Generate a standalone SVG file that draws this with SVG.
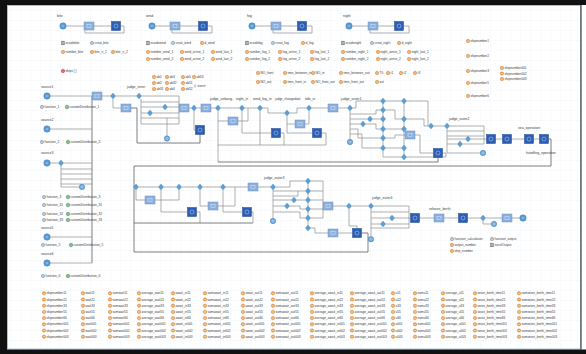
<svg xmlns="http://www.w3.org/2000/svg" width="586" height="354" viewBox="0 0 586 354">
<style>
text{font-family:"Liberation Sans",Arial,sans-serif;fill:#3a3a3a}
.lb{font-size:3.5px}
.sm{font-size:3.1px}
.v{font-size:3.2px}
.c{fill:none;stroke:#8e8e8e;stroke-width:0.7}
.k{fill:none;stroke:#5e5e5e;stroke-width:0.8}
</style>
<defs>
<pattern id="grid" width="10" height="10" patternUnits="userSpaceOnUse"><path d="M10,0H0V10" fill="none" stroke="#e6eaee" stroke-width="0.5"/></pattern>
<g id="ov"><circle r="1.7" fill="#eea255" stroke="#c87628" stroke-width="0.4"/><circle r="0.55" fill="#fff"/></g>
<g id="fn"><circle r="1.7" fill="#a7b9cb" stroke="#6d87a0" stroke-width="0.4"/><circle r="0.6" fill="#fff"/></g>
<g id="cd"><circle r="1.8" fill="#6ab47e" stroke="#3a8150" stroke-width="0.4"/><path d="M-0.9,0.6Q0,-1.4 0.9,0.6" fill="none" stroke="#fff" stroke-width="0.4"/></g>
<g id="db"><rect x="-1.5" y="-1.9" width="3" height="3.8" fill="#8f9a8f" stroke="#555" stroke-width="0.3"/><path d="M-1,-0.6H1M-1,0.5H1" stroke="#fff" stroke-width="0.3"/></g>
<g id="ship"><circle r="1.8" fill="#d8404a" stroke="#a82630" stroke-width="0.3"/><circle r="0.6" fill="#fff"/></g>
<g id="src"><circle r="3.2" fill="#5b9bd5" stroke="#3b7cc0" stroke-width="0.5"/><path d="M-1.2,0H1.2" stroke="#e6f0fa" stroke-width="0.6"/></g>
<g id="snk"><circle r="2.7" fill="#6aa6da" stroke="#3b7cc0" stroke-width="0.5"/><circle r="1.1" fill="none" stroke="#e6f0fa" stroke-width="0.4"/></g>
<g id="ls"><rect x="-5" y="-4" width="10" height="8" fill="#8cb0de" stroke="#6a90c6" stroke-width="0.5"/><rect x="-2" y="-1.4" width="4" height="2.8" fill="none" stroke="#eef4fb" stroke-width="0.4"/></g>
<g id="ds"><rect x="-4.5" y="-4.5" width="9" height="9" fill="#2b5db4" stroke="#1d4590" stroke-width="0.5"/><circle r="2" fill="none" stroke="#dce8f8" stroke-width="0.45"/></g>
<g id="dm"><path d="M0,-3L2.7,0L0,3L-2.7,0Z" fill="#5e9fd3" stroke="#3f80ba" stroke-width="0.3"/></g>
<g id="ev"><path d="M0.6,-2L-0.8,0.2H0.2L-0.5,2L1,-0.3H0Z" fill="#f0b21a" stroke="#c78a00" stroke-width="0.2"/></g>
</defs>

<rect width="586" height="354" fill="#fff"/>
<rect x="8" y="6" width="572" height="342" fill="url(#grid)"/>
<rect x="7.5" y="5.5" width="573" height="343.5" fill="none" stroke="#a8c2da" stroke-width="1"/>
<rect x="0" y="0" width="586" height="5" fill="#111"/>
<rect x="0" y="0" width="7" height="354" fill="#111"/>
<rect x="0" y="349.5" width="586" height="4.5" fill="#111"/>
<line x1="581" y1="5" x2="581" y2="350" stroke="#444" stroke-width="1.2"/>

<g id="connectors">
<path class="c" d="M66.2,26H84M94,26H111.5M120.5,26H124V33H85V30"/>
<path class="c" d="M155.2,26H170M180,26H198.5M207.5,26H212V33H172V30"/>
<path class="c" d="M255.2,26H271M281,26H297.5M306.5,26H312V33H273V30"/>
<path class="c" d="M352.2,26H368M378,26H394.5M403.5,26H409V33H370V30"/>
<path class="k" d="M92,96V263"/>
<path class="c" d="M50.2,96H92M50.2,129H92M50.2,163H58.3M63.7,163H92M61,166V187H79.3M61,169H92M61,174H92M61,179H92M61,184H92M50.2,237H92M50.2,263H92"/>
<path class="c" d="M102,96H110.3M115.7,96H136.3M113,99V108H121"/>
<path class="c" d="M141.7,96H179V124M141,99V124H179M141,102H179M141,107H162.3M167.7,107H179M141,113H147.3M152.7,113H179M141,118H179M167,118V135.8"/>
<path class="c" d="M189,108H191.3M196.7,108H201M211,108H215.3M194,111V130H195.5"/>
<path class="k" d="M200,134.5V143H137V108H131"/>
<path class="c" d="M220.7,108H239.3M218,111V162M218,121H228M238,121H248V108"/>
<path class="c" d="M244.7,108H257.3M242,111V133H271.5"/>
<path class="c" d="M262.7,108H268V113H284.3M260,111V145"/>
<path class="c" d="M289.7,113H297V108H306.3M287,116V133H312.5M287,124H295M305,124H309V111"/>
<path class="c" d="M280.5,133H284V145M321.5,133H326V145M218,145H326"/>
<path class="c" d="M311.7,108H328M338,108H347.3"/>
<path class="c" d="M352.7,108H356V101H380.3M350,111V139.3"/>
<path class="c" d="M350,114H376V110H380.3M350,119H367.3M372.7,119H380.3M350,124H360.3M365.7,124H376V129H380.3M350,129H358V138H380.3M350,134H362V148H380.3"/>
<path class="c" d="M383,101V148M385.7,101H401.3M385.7,110H395V119H401.3M385.7,129H401.3M385.7,138H395V135H405M385.7,148H401.3M383,151V157H401.3M404,101V157"/>
<path class="c" d="M406.7,101H428V126M406.7,119H424V126H428.3M415,135H420V153H433.5M406.7,157H446V153H442.5"/>
<path class="k" d="M438,157.5V162H218"/>
<path class="c" d="M433.7,126H444.3M449.7,126H484V144M447,129V153H480.3"/>
<path class="c" d="M447,131H484M447,136H484M447,139H465.3M470.7,139H484M447,144H457.3M462.7,144H484M484,139H486.5"/>
<path class="c" d="M495.5,139H502.5M511.5,139H524.5M533.5,139H539.5"/>
<path class="k" d="M548.5,139H551V166H134V252H368V233H361.5"/>
<path class="c" d="M138.7,187H158.3M163.7,187H176.3M181.7,187H197.3M202.7,187H220.3M225.7,187H248M258,187H270.3"/>
<path class="c" d="M136,190V200H145M155,200H179V190M161,190V212H187.5M196.5,212H200V223M200,190V206H208M218,206H235V187M223,190V212H242.5M251.5,212H253V223"/>
<path class="k" d="M134,223H253"/>
<path class="c" d="M275.7,187H290V181H305.3M273,190V218.3M273,191H305.3M273,196H298V191M273,200H291.3M296.7,200H305.3M273,206H284.3M289.7,206H300V209H305.3M273,212H300V218H305.3"/>
<path class="c" d="M308,181V228M310.7,181H323V218M310.7,191H323M310.7,200H323M310.7,209H323M310.7,218H323M310.7,228H315V233H328M338,233H352.5"/>
<path class="c" d="M333,206H346.3M351.7,206H368.3M349,209V226H357V228.5"/>
<path class="c" d="M373.7,206H409V228M371,209V236.5M371,212H409M371,218H389.3M394.7,218H409M371,224H380.3M385.7,224H409M371,228H409M409,218H410.5"/>
<path class="c" d="M419.5,218H434M444,218H458.5M467.5,218H480.3M485.7,218H502M512,218H520M483,221V224H491.3"/>
</g>

<g id="src_bite"><text class="lb" x="57" y="17">bite</text><use href="#src" x="63" y="26"/></g>
<g id="svc_bite"><use href="#ls" x="89" y="26"/></g>
<g id="dly_bite"><use href="#ds" x="116" y="26"/></g>
<g id="src_wind"><text class="lb" x="146" y="17">wind</text><use href="#src" x="152" y="26"/></g>
<g id="svc_wind"><use href="#ls" x="175" y="26"/></g>
<g id="dly_wind"><use href="#ds" x="203" y="26"/></g>
<g id="src_fog"><text class="lb" x="247" y="17">fog</text><use href="#src" x="252" y="26"/></g>
<g id="svc_fog"><use href="#ls" x="276" y="26"/></g>
<g id="dly_fog"><use href="#ds" x="302" y="26"/></g>
<g id="src_night"><text class="lb" x="343" y="17">night</text><use href="#src" x="349" y="26"/></g>
<g id="svc_night"><use href="#ls" x="373" y="26"/></g>
<g id="dly_night"><use href="#ds" x="399" y="26"/></g>

<g id="vars_top" class="v">
<use href="#db" x="63" y="43"/><text x="65.5" y="44.1">ecodebite</text>
<use href="#fn" x="92" y="43"/><text x="94.5" y="44.1">creat_bite</text>
<use href="#ov" x="63" y="52"/><text x="65.5" y="53.1">number_bite</text>
<use href="#ov" x="92" y="52"/><text x="94.5" y="53.1">bite_n_1</text>
<use href="#ov" x="113" y="52"/><text x="115.5" y="53.1">bite_n_2</text>
<use href="#ship" x="63" y="71"/><text x="65.5" y="72.1">ships [ ]</text>
<use href="#db" x="148" y="43"/><text x="150.5" y="44.1">ecodewind</text>
<use href="#fn" x="173" y="43"/><text x="175.5" y="44.1">creat_wind</text>
<use href="#ov" x="202" y="43"/><text x="204.5" y="44.1">d_wind</text>
<use href="#ov" x="148" y="52"/><text x="150.5" y="53.1">number_wind_1</text>
<use href="#ov" x="182" y="52"/><text x="184.5" y="53.1">wind_arrive_1</text>
<use href="#ov" x="213" y="52"/><text x="215.5" y="53.1">wind_last_1</text>
<use href="#ov" x="148" y="59"/><text x="150.5" y="60.1">number_wind_2</text>
<use href="#ov" x="182" y="59"/><text x="184.5" y="60.1">wind_arrive_2</text>
<use href="#ov" x="213" y="59"/><text x="215.5" y="60.1">wind_last_2</text>
<use href="#db" x="247" y="43"/><text x="249.5" y="44.1">ecodefog</text>
<use href="#fn" x="273" y="43"/><text x="275.5" y="44.1">creat_fog</text>
<use href="#ov" x="303" y="43"/><text x="305.5" y="44.1">d_fog</text>
<use href="#ov" x="247" y="52"/><text x="249.5" y="53.1">number_fog_1</text>
<use href="#ov" x="280" y="52"/><text x="282.5" y="53.1">fog_arrive_1</text>
<use href="#ov" x="312" y="52"/><text x="314.5" y="53.1">fog_last_1</text>
<use href="#ov" x="247" y="59"/><text x="249.5" y="60.1">number_fog_2</text>
<use href="#ov" x="280" y="59"/><text x="282.5" y="60.1">fog_arrive_2</text>
<use href="#ov" x="312" y="59"/><text x="314.5" y="60.1">fog_last_2</text>
<use href="#db" x="343" y="43"/><text x="345.5" y="44.1">ecodenight</text>
<use href="#fn" x="372" y="43"/><text x="374.5" y="44.1">creat_night</text>
<use href="#ov" x="399" y="43"/><text x="401.5" y="44.1">d_night</text>
<use href="#ov" x="343" y="52"/><text x="345.5" y="53.1">number_night_1</text>
<use href="#ov" x="378" y="52"/><text x="380.5" y="53.1">night_arrive_1</text>
<use href="#ov" x="409" y="52"/><text x="411.5" y="53.1">night_last_1</text>
<use href="#ov" x="343" y="59"/><text x="345.5" y="60.1">number_night_2</text>
<use href="#ov" x="378" y="59"/><text x="380.5" y="60.1">night_arrive_2</text>
<use href="#ov" x="409" y="59"/><text x="411.5" y="60.1">night_last_2</text>
<use href="#ov" x="154" y="77"/><text x="156.5" y="78.1">ab1</text>
<use href="#ov" x="167" y="77"/><text x="169.5" y="78.1">ab3</text>
<use href="#ov" x="183" y="77"/><text x="185.5" y="78.1">ab5</text>
<use href="#ov" x="194" y="77"/><text x="196.5" y="78.1">ab53</text>
<use href="#ov" x="154" y="83"/><text x="156.5" y="84.1">ab2</text>
<use href="#ov" x="167" y="83"/><text x="169.5" y="84.1">ab32</text>
<use href="#ov" x="183" y="83"/><text x="185.5" y="84.1">ab51</text>
<use href="#ov" x="154" y="89"/><text x="156.5" y="90.1">ab31</text>
<use href="#ov" x="167" y="89"/><text x="169.5" y="90.1">ab4</text>
<use href="#ov" x="183" y="89"/><text x="185.5" y="90.1">ab52</text>
<use href="#ev" x="195" y="86"/><text x="197.5" y="87.1">event</text>
<use href="#ov" x="258" y="73"/><text x="260.5" y="74.1">NO_front</text>
<use href="#ov" x="285" y="73"/><text x="287.5" y="74.1">time_between_in</text>
<use href="#ov" x="313" y="73"/><text x="315.5" y="74.1">NO_in</text>
<use href="#ov" x="341" y="73"/><text x="343.5" y="74.1">time_between_out</text>
<use href="#ov" x="377" y="73"/><text x="379.5" y="74.1">T0</text>
<use href="#ov" x="388" y="73"/><text x="390.5" y="74.1">t1</text>
<use href="#ov" x="401" y="73"/><text x="403.5" y="74.1">t2</text>
<use href="#ov" x="415" y="73"/><text x="417.5" y="74.1">t3</text>
<use href="#ov" x="258" y="82"/><text x="260.5" y="83.1">NO_out</text>
<use href="#ov" x="285" y="82"/><text x="287.5" y="83.1">time_front_in</text>
<use href="#ov" x="313" y="82"/><text x="315.5" y="83.1">NO_front_out</text>
<use href="#ov" x="341" y="82"/><text x="343.5" y="83.1">time_front_out</text>
<use href="#ov" x="377" y="82"/><text x="379.5" y="83.1">out</text>
<use href="#ov" x="468" y="41"/><text x="470.5" y="42.1">shipnumber1</text>
<use href="#ov" x="468" y="56"/><text x="470.5" y="57.1">shipnumber2</text>
<use href="#ov" x="468" y="71"/><text x="470.5" y="72.1">shipnumber3</text>
<use href="#ov" x="468" y="83"/><text x="470.5" y="84.1">shipnumber5</text>
<use href="#ov" x="468" y="96"/><text x="470.5" y="97.1">shipnumber6</text>
<use href="#ov" x="502" y="68"/><text x="504.5" y="69.1">shipnumber001</text>
<use href="#ov" x="502" y="73.5"/><text x="504.5" y="74.6">shipnumber002</text>
<use href="#ov" x="502" y="79"/><text x="504.5" y="80.1">shipnumber003</text>
</g>

<g id="vars_left" class="v">
<use href="#fn" x="42" y="107"/><text x="44.5" y="108.1">function_1</text>
<use href="#cd" x="67" y="107"/><text x="69.5" y="108.1">customDistribution_1</text>
<use href="#fn" x="42" y="142"/><text x="44.5" y="143.1">function_2</text>
<use href="#cd" x="68" y="142"/><text x="70.5" y="143.1">customDistribution_2</text>
<use href="#fn" x="44" y="197"/><text x="46.5" y="198.1">function_3</text>
<use href="#cd" x="68" y="197"/><text x="70.5" y="198.1">customDistribution_3</text>
<use href="#fn" x="44" y="205"/><text x="46.5" y="206.1">function_31</text>
<use href="#cd" x="68" y="205"/><text x="70.5" y="206.1">customDistribution_31</text>
<use href="#fn" x="44" y="214"/><text x="46.5" y="215.1">function_32</text>
<use href="#cd" x="68" y="214"/><text x="70.5" y="215.1">customDistribution_32</text>
<use href="#fn" x="44" y="220"/><text x="46.5" y="221.1">function_33</text>
<use href="#cd" x="68" y="220"/><text x="70.5" y="221.1">customDistribution_33</text>
<use href="#fn" x="43" y="245"/><text x="45.5" y="246.1">function_5</text>
<use href="#cd" x="71" y="245"/><text x="73.5" y="246.1">customDistribution_5</text>
<use href="#fn" x="43" y="276"/><text x="45.5" y="277.1">function_6</text>
<use href="#cd" x="68" y="276"/><text x="70.5" y="277.1">customDistribution_6</text>
</g>

<g id="source1"><text class="lb" x="41" y="88">source1</text><use href="#src" x="47" y="96"/></g>
<g id="source2"><text class="lb" x="41" y="121">source2</text><use href="#src" x="47" y="129"/></g>
<g id="source3"><text class="lb" x="41" y="154">source3</text><use href="#src" x="47" y="163"/></g>
<g id="source5"><text class="lb" x="41" y="229">source5</text><use href="#src" x="47" y="237"/></g>
<g id="source6"><text class="lb" x="41" y="255">source6</text><use href="#src" x="47" y="263"/></g>
<g id="sel3"><use href="#dm" x="61" y="163"/></g>
<g id="sink3"><use href="#snk" x="82" y="187"/></g>

<g id="svc_in"><use href="#ls" x="97" y="96"/></g>
<g id="sel_a"><use href="#dm" x="113" y="96"/></g>
<g id="judge_inner"><text class="lb" x="127" y="88">judge_inner</text><use href="#dm" x="139" y="96"/></g>
<g id="svc_b"><use href="#ls" x="126" y="108"/></g>
<g id="sel_b"><use href="#dm" x="165" y="107"/></g>
<g id="sel_c"><use href="#dm" x="150" y="113"/></g>
<g id="sink_a"><use href="#snk" x="167" y="138.5"/></g>
<g id="svc_c"><use href="#ls" x="184" y="108"/></g>
<g id="sel_d"><use href="#dm" x="194" y="108"/></g>
<g id="dly_a"><use href="#ds" x="200" y="130"/></g>
<g id="svc_d"><use href="#ls" x="206" y="108"/></g>
<g id="judge_uebang"><text class="lb" x="210" y="99.5">judge_uebang</text><use href="#dm" x="218" y="108"/></g>
<g id="svc_e"><use href="#ls" x="233" y="121"/></g>
<g id="night_in"><text class="lb" x="236" y="99.5">night_in</text><use href="#dm" x="242" y="108"/></g>
<g id="wind_fog_in"><text class="lb" x="253" y="99.5">wind_fog_in</text><use href="#dm" x="260" y="108"/></g>
<g id="dly_b"><use href="#ds" x="276" y="133"/></g>
<g id="judge_changedate"><text class="sm" x="275" y="99.5">judge_changedate</text><use href="#dm" x="287" y="113"/></g>
<g id="svc_f"><use href="#ls" x="300" y="124"/></g>
<g id="dly_c"><use href="#ds" x="317" y="133"/></g>
<g id="tide_in"><text class="lb" x="305" y="99.5">tide_in</text><use href="#dm" x="309" y="108"/></g>
<g id="svc_g"><use href="#ls" x="333" y="108"/></g>
<g id="judge_outer1"><text class="lb" x="341" y="99.5">judge_outer1</text><use href="#dm" x="350" y="108"/></g>
<g id="sel_e"><use href="#dm" x="370" y="119"/></g>
<g id="sel_f"><use href="#dm" x="363" y="124"/></g>
<g id="sink_b"><use href="#snk" x="350" y="142"/></g>
<g id="col383"><use href="#dm" x="383" y="101"/><use href="#dm" x="383" y="110"/><use href="#dm" x="383" y="119"/><use href="#dm" x="383" y="129"/><use href="#dm" x="383" y="138"/><use href="#dm" x="383" y="148"/></g>
<g id="col404"><use href="#dm" x="404" y="101"/><use href="#dm" x="404" y="119"/><use href="#dm" x="404" y="129"/><use href="#dm" x="404" y="148"/><use href="#dm" x="404" y="157"/></g>
<g id="svc_h"><use href="#ls" x="410" y="135"/></g>
<g id="sel_g"><use href="#dm" x="431" y="126"/></g>
<g id="dly_d"><use href="#ds" x="438" y="153"/></g>
<g id="judge_outer2"><text class="lb" x="449" y="119.5">judge_outer2</text><use href="#dm" x="447" y="126"/></g>
<g id="sel_h"><use href="#dm" x="468" y="139"/></g>
<g id="sel_i"><use href="#dm" x="460" y="144"/></g>
<g id="sink_c"><use href="#snk" x="483" y="153"/></g>
<g id="dly_e"><use href="#ds" x="491" y="139"/></g>
<g id="dly_f"><use href="#ds" x="507" y="139"/></g>
<g id="sea_operation"><text class="lb" x="518" y="129">sea_operation</text><use href="#ds" x="529" y="139"/></g>
<g id="handling_operation"><text class="lb" x="526" y="153.5">handling_operation</text><use href="#ds" x="544" y="139"/></g>

<g id="sel_r2a"><use href="#dm" x="136" y="187"/></g>
<g id="svc_r2a"><use href="#ls" x="150" y="200"/></g>
<g id="sel_r2b"><use href="#dm" x="161" y="187"/></g>
<g id="sel_r2c"><use href="#dm" x="179" y="187"/></g>
<g id="dly_r2a"><use href="#ds" x="192" y="212"/></g>
<g id="sel_r2d"><use href="#dm" x="200" y="187"/></g>
<g id="svc_r2b"><use href="#ls" x="213" y="206"/></g>
<g id="sel_r2e"><use href="#dm" x="223" y="187"/></g>
<g id="dly_r2b"><use href="#ds" x="247" y="212"/></g>
<g id="svc_r2c"><use href="#ls" x="253" y="187"/></g>
<g id="judge_outer3"><text class="lb" x="264" y="178.5">judge_outer3</text><use href="#dm" x="273" y="187"/></g>
<g id="sink_r2a"><use href="#snk" x="273" y="221"/></g>
<g id="sel_r2f"><use href="#dm" x="294" y="200"/></g>
<g id="sel_r2g"><use href="#dm" x="287" y="206"/></g>
<g id="col308"><use href="#dm" x="308" y="181"/><use href="#dm" x="308" y="191"/><use href="#dm" x="308" y="200"/><use href="#dm" x="308" y="209"/><use href="#dm" x="308" y="218"/><use href="#dm" x="308" y="228"/></g>
<g id="svc_r2d"><use href="#ls" x="328" y="206"/></g>
<g id="sel_r2h"><use href="#dm" x="349" y="206"/></g>
<g id="svc_r2e"><use href="#ls" x="333" y="233"/></g>
<g id="dly_r2c"><use href="#ds" x="357" y="233"/></g>
<g id="judge_outer4"><text class="lb" x="372" y="198.5">judge_outer4</text><use href="#dm" x="371" y="206"/></g>
<g id="sel_r2i"><use href="#dm" x="392" y="218"/></g>
<g id="sel_r2j"><use href="#dm" x="383" y="224"/></g>
<g id="sink_r2b"><use href="#snk" x="371" y="239.2"/></g>
<g id="dly_r2d"><use href="#ds" x="415" y="218"/></g>
<g id="release_berth"><text class="lb" x="429" y="209.5">release_berth</text><use href="#ls" x="439" y="218"/></g>
<g id="dly_r2e"><use href="#ds" x="463" y="218"/></g>
<g id="sel_r2k"><use href="#dm" x="483" y="218"/></g>
<g id="sink_r2c"><use href="#snk" x="494" y="224"/></g>
<g id="svc_r2f"><use href="#ls" x="507" y="218"/></g>
<g id="sink_end"><use href="#src" x="523" y="218"/></g>

<g id="legend" class="v">
<use href="#fn" x="452" y="239"/><text x="454.5" y="240.1">function_calculation</text>
<use href="#ov" x="452" y="245"/><text x="454.5" y="246.1">output_number</text>
<use href="#ov" x="452" y="251"/><text x="454.5" y="252.1">ship_number</text>
<use href="#fn" x="492" y="239"/><text x="494.5" y="240.1">function_output</text>
<use href="#db" x="492" y="245"/><text x="494.5" y="246.1">excelOutput</text>
</g>

<g id="table" class="v">
<g transform="translate(44,0)"><use href="#ov" y="293.3"/><text x="2.5" y="294.4">shipnumber11</text><use href="#ov" y="299.5"/><text x="2.5" y="300.6">shipnumber22</text><use href="#ov" y="305.7"/><text x="2.5" y="306.8">shipnumber33</text><use href="#ov" y="311.9"/><text x="2.5" y="313">shipnumber55</text><use href="#ov" y="318.1"/><text x="2.5" y="319.2">shipnumber66</text><use href="#ov" y="324.3"/><text x="2.5" y="325.4">shipnumber001</text><use href="#ov" y="330.5"/><text x="2.5" y="331.6">shipnumber002</text><use href="#ov" y="336.7"/><text x="2.5" y="337.8">shipnumber003</text></g>
<g transform="translate(83,0)"><use href="#ov" y="293.3"/><text x="2.5" y="294.4">wait11</text><use href="#ov" y="299.5"/><text x="2.5" y="300.6">wait22</text><use href="#ov" y="305.7"/><text x="2.5" y="306.8">wait33</text><use href="#ov" y="311.9"/><text x="2.5" y="313">wait55</text><use href="#ov" y="318.1"/><text x="2.5" y="319.2">wait66</text><use href="#ov" y="324.3"/><text x="2.5" y="325.4">wait001</text><use href="#ov" y="330.5"/><text x="2.5" y="331.6">wait002</text><use href="#ov" y="336.7"/><text x="2.5" y="337.8">wait003</text></g>
<g transform="translate(110,0)"><use href="#ov" y="293.3"/><text x="2.5" y="294.4">sumwait11</text><use href="#ov" y="299.5"/><text x="2.5" y="300.6">sumwait22</text><use href="#ov" y="305.7"/><text x="2.5" y="306.8">sumwait33</text><use href="#ov" y="311.9"/><text x="2.5" y="313">sumwait55</text><use href="#ov" y="318.1"/><text x="2.5" y="319.2">sumwait66</text><use href="#ov" y="324.3"/><text x="2.5" y="325.4">sumwait001</text><use href="#ov" y="330.5"/><text x="2.5" y="331.6">sumwait002</text><use href="#ov" y="336.7"/><text x="2.5" y="337.8">sumwait003</text></g>
<g transform="translate(139,0)"><use href="#ov" y="293.3"/><text x="2.5" y="294.4">average_wait11</text><use href="#ov" y="299.5"/><text x="2.5" y="300.6">average_wait22</text><use href="#ov" y="305.7"/><text x="2.5" y="306.8">average_wait33</text><use href="#ov" y="311.9"/><text x="2.5" y="313">average_wait55</text><use href="#ov" y="318.1"/><text x="2.5" y="319.2">average_wait66</text><use href="#ov" y="324.3"/><text x="2.5" y="325.4">average_wait001</text><use href="#ov" y="330.5"/><text x="2.5" y="331.6">average_wait002</text><use href="#ov" y="336.7"/><text x="2.5" y="337.8">average_wait003</text></g>
<g transform="translate(173,0)"><use href="#ov" y="293.3"/><text x="2.5" y="294.4">await_in11</text><use href="#ov" y="299.5"/><text x="2.5" y="300.6">await_in22</text><use href="#ov" y="305.7"/><text x="2.5" y="306.8">await_in33</text><use href="#ov" y="311.9"/><text x="2.5" y="313">await_in55</text><use href="#ov" y="318.1"/><text x="2.5" y="319.2">await_in66</text><use href="#ov" y="324.3"/><text x="2.5" y="325.4">await_in001</text><use href="#ov" y="330.5"/><text x="2.5" y="331.6">await_in002</text><use href="#ov" y="336.7"/><text x="2.5" y="337.8">await_in003</text></g>
<g transform="translate(205,0)"><use href="#ov" y="293.3"/><text x="2.5" y="294.4">sumawait_in11</text><use href="#ov" y="299.5"/><text x="2.5" y="300.6">sumawait_in22</text><use href="#ov" y="305.7"/><text x="2.5" y="306.8">sumawait_in33</text><use href="#ov" y="311.9"/><text x="2.5" y="313">sumawait_in55</text><use href="#ov" y="318.1"/><text x="2.5" y="319.2">sumawait_in66</text><use href="#ov" y="324.3"/><text x="2.5" y="325.4">sumawait_in001</text><use href="#ov" y="330.5"/><text x="2.5" y="331.6">sumawait_in002</text><use href="#ov" y="336.7"/><text x="2.5" y="337.8">sumawait_in003</text></g>
<g transform="translate(243,0)"><use href="#ov" y="293.3"/><text x="2.5" y="294.4">await_out11</text><use href="#ov" y="299.5"/><text x="2.5" y="300.6">await_out22</text><use href="#ov" y="305.7"/><text x="2.5" y="306.8">await_out33</text><use href="#ov" y="311.9"/><text x="2.5" y="313">await_out55</text><use href="#ov" y="318.1"/><text x="2.5" y="319.2">await_out66</text><use href="#ov" y="324.3"/><text x="2.5" y="325.4">await_out001</text><use href="#ov" y="330.5"/><text x="2.5" y="331.6">await_out002</text><use href="#ov" y="336.7"/><text x="2.5" y="337.8">await_out003</text></g>
<g transform="translate(273,0)"><use href="#ov" y="293.3"/><text x="2.5" y="294.4">sumawait_out11</text><use href="#ov" y="299.5"/><text x="2.5" y="300.6">sumawait_out22</text><use href="#ov" y="305.7"/><text x="2.5" y="306.8">sumawait_out33</text><use href="#ov" y="311.9"/><text x="2.5" y="313">sumawait_out55</text><use href="#ov" y="318.1"/><text x="2.5" y="319.2">sumawait_out66</text><use href="#ov" y="324.3"/><text x="2.5" y="325.4">sumawait_out001</text><use href="#ov" y="330.5"/><text x="2.5" y="331.6">sumawait_out002</text><use href="#ov" y="336.7"/><text x="2.5" y="337.8">sumawait_out003</text></g>
<g transform="translate(312,0)"><use href="#ov" y="293.3"/><text x="2.5" y="294.4">average_await_in11</text><use href="#ov" y="299.5"/><text x="2.5" y="300.6">average_await_in22</text><use href="#ov" y="305.7"/><text x="2.5" y="306.8">average_await_in33</text><use href="#ov" y="311.9"/><text x="2.5" y="313">average_await_in55</text><use href="#ov" y="318.1"/><text x="2.5" y="319.2">average_await_in66</text><use href="#ov" y="324.3"/><text x="2.5" y="325.4">average_await_in001</text><use href="#ov" y="330.5"/><text x="2.5" y="331.6">average_await_in002</text><use href="#ov" y="336.7"/><text x="2.5" y="337.8">average_await_in003</text></g>
<g transform="translate(352,0)"><use href="#ov" y="293.3"/><text x="2.5" y="294.4">average_await_out11</text><use href="#ov" y="299.5"/><text x="2.5" y="300.6">average_await_out22</text><use href="#ov" y="305.7"/><text x="2.5" y="306.8">average_await_out33</text><use href="#ov" y="311.9"/><text x="2.5" y="313">average_await_out55</text><use href="#ov" y="318.1"/><text x="2.5" y="319.2">average_await_out66</text><use href="#ov" y="324.3"/><text x="2.5" y="325.4">average_await_out001</text><use href="#ov" y="330.5"/><text x="2.5" y="331.6">average_await_out002</text><use href="#ov" y="336.7"/><text x="2.5" y="337.8">average_await_out003</text></g>
<g transform="translate(393,0)"><use href="#ov" y="293.3"/><text x="2.5" y="294.4">u11</text><use href="#ov" y="299.5"/><text x="2.5" y="300.6">u22</text><use href="#ov" y="305.7"/><text x="2.5" y="306.8">u33</text><use href="#ov" y="311.9"/><text x="2.5" y="313">u55</text><use href="#ov" y="318.1"/><text x="2.5" y="319.2">u66</text><use href="#ov" y="324.3"/><text x="2.5" y="325.4">u001</text><use href="#ov" y="330.5"/><text x="2.5" y="331.6">u002</text><use href="#ov" y="336.7"/><text x="2.5" y="337.8">u003</text></g>
<g transform="translate(415,0)"><use href="#ov" y="293.3"/><text x="2.5" y="294.4">sumu11</text><use href="#ov" y="299.5"/><text x="2.5" y="300.6">sumu22</text><use href="#ov" y="305.7"/><text x="2.5" y="306.8">sumu33</text><use href="#ov" y="311.9"/><text x="2.5" y="313">sumu55</text><use href="#ov" y="318.1"/><text x="2.5" y="319.2">sumu66</text><use href="#ov" y="324.3"/><text x="2.5" y="325.4">sumu001</text><use href="#ov" y="330.5"/><text x="2.5" y="331.6">sumu002</text><use href="#ov" y="336.7"/><text x="2.5" y="337.8">sumu003</text></g>
<g transform="translate(443,0)"><use href="#ov" y="293.3"/><text x="2.5" y="294.4">average_u11</text><use href="#ov" y="299.5"/><text x="2.5" y="300.6">average_u22</text><use href="#ov" y="305.7"/><text x="2.5" y="306.8">average_u33</text><use href="#ov" y="311.9"/><text x="2.5" y="313">average_u55</text><use href="#ov" y="318.1"/><text x="2.5" y="319.2">average_u66</text><use href="#ov" y="324.3"/><text x="2.5" y="325.4">average_u001</text><use href="#ov" y="330.5"/><text x="2.5" y="331.6">average_u002</text><use href="#ov" y="336.7"/><text x="2.5" y="337.8">average_u003</text></g>
<g transform="translate(475,0)"><use href="#ov" y="293.3"/><text x="2.5" y="294.4">seize_berth_time11</text><use href="#ov" y="299.5"/><text x="2.5" y="300.6">seize_berth_time22</text><use href="#ov" y="305.7"/><text x="2.5" y="306.8">seize_berth_time33</text><use href="#ov" y="311.9"/><text x="2.5" y="313">seize_berth_time55</text><use href="#ov" y="318.1"/><text x="2.5" y="319.2">seize_berth_time66</text><use href="#ov" y="324.3"/><text x="2.5" y="325.4">seize_berth_time001</text><use href="#ov" y="330.5"/><text x="2.5" y="331.6">seize_berth_time002</text><use href="#ov" y="336.7"/><text x="2.5" y="337.8">seize_berth_time003</text></g>
<g transform="translate(519,0)"><use href="#ov" y="293.3"/><text x="2.5" y="294.4">sumseize_berth_time11</text><use href="#ov" y="299.5"/><text x="2.5" y="300.6">sumseize_berth_time22</text><use href="#ov" y="305.7"/><text x="2.5" y="306.8">sumseize_berth_time33</text><use href="#ov" y="311.9"/><text x="2.5" y="313">sumseize_berth_time55</text><use href="#ov" y="318.1"/><text x="2.5" y="319.2">sumseize_berth_time66</text><use href="#ov" y="324.3"/><text x="2.5" y="325.4">sumseize_berth_time001</text><use href="#ov" y="330.5"/><text x="2.5" y="331.6">sumseize_berth_time002</text><use href="#ov" y="336.7"/><text x="2.5" y="337.8">sumseize_berth_time003</text></g>
</g>
</svg>
